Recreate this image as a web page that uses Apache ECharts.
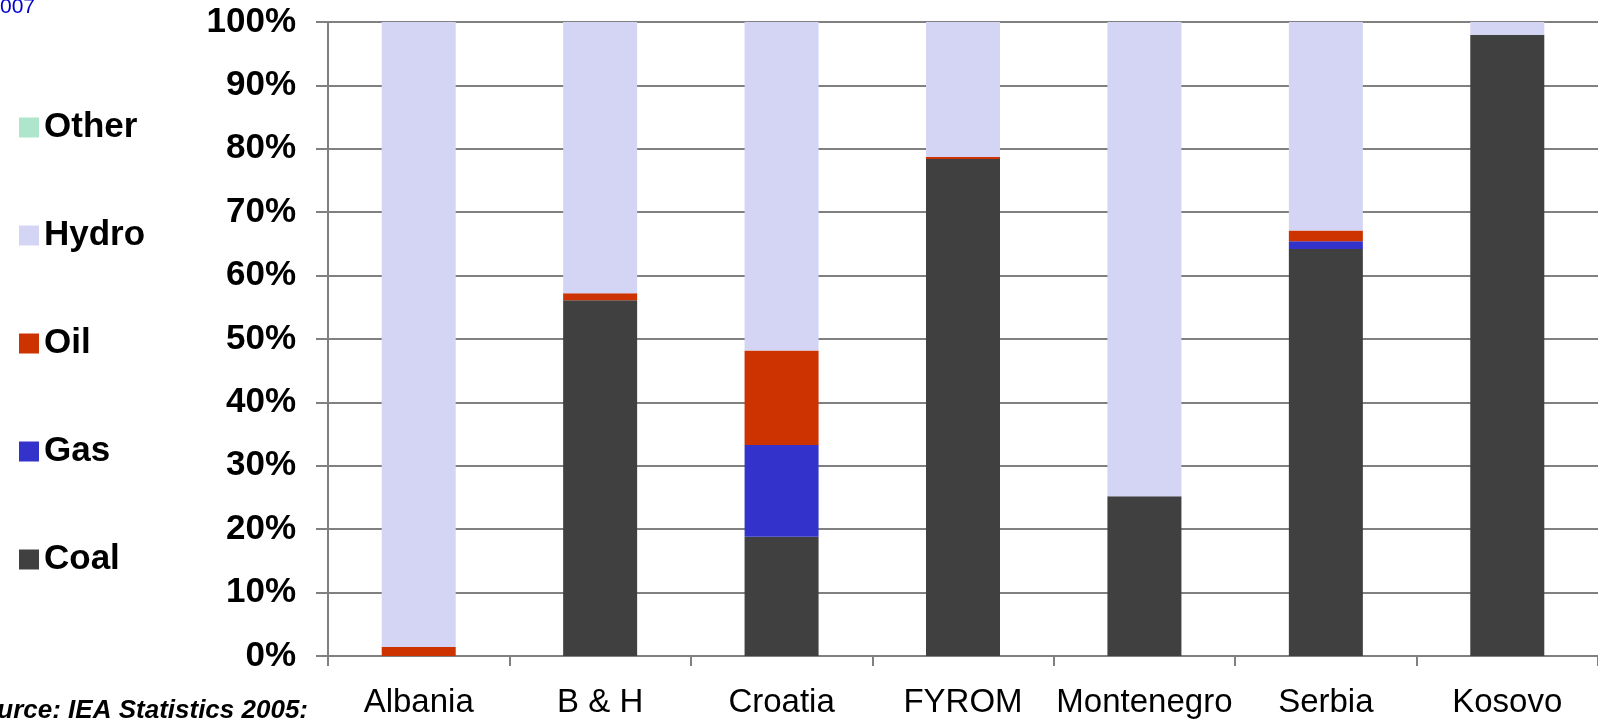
<!DOCTYPE html>
<html>
<head>
<meta charset="utf-8">
<script src="https://cdn.jsdelivr.net/npm/echarts@6/dist/echarts.min.js"></script>
<style>
  html, body { margin: 0; padding: 0; background: #fff; }
  #chart { width: 1598px; height: 721px; }
</style>
</head>
<body>
<div id="chart"></div>
<script>
//****** 数据 ******//
var countries = ["Albania", "B & H", "Croatia", "FYROM", "Montenegro", "Serbia", "Kosovo"];
var coal = [0, 56.1, 18.8, 78.4, 25.2, 64.2, 98.0];
var gas = [0, 0, 14.5, 0, 0, 1.2, 0];
var oil = [1.4, 1.1, 14.9, 0.3, 0, 1.7, 0];
var hydro = [98.6, 42.8, 51.8, 21.3, 74.8, 32.9, 2.0];
var other = [0, 0, 0, 0, 0, 0, 0];
var legend_order = ["Other", "Hydro", "Oil", "Gas", "Coal"];

//****** 样式 ******//
var font = "'Liberation Sans', Arial, sans-serif";
var grid_color = "#808080";

var chart = echarts.init(document.getElementById("chart"));

function bar(name, values, color) {
  return {
    name: name,
    type: "bar",
    stack: "mix",
    barWidth: 74,
    data: values,
    itemStyle: { color: color },
    emphasis: { disabled: true }
  };
}

var option = {
  animation: false,
  backgroundColor: "#fff",
  grid: { left: 328, top: 22, width: 1274, height: 634 },
  legend: {
    orient: "vertical",
    left: 14,
    top: 105,
    icon: "rect",
    itemWidth: 20,
    itemHeight: 20,
    itemGap: 73,
    data: legend_order,
    textStyle: {
      fontFamily: font,
      fontSize: 35,
      fontWeight: "bold",
      color: "#000"
    }
  },
  xAxis: {
    type: "category",
    data: countries,
    axisLine: { lineStyle: { color: grid_color, width: 2 } },
    axisTick: { show: true, interval: 0, length: 10, lineStyle: { color: grid_color, width: 2 } },
    axisLabel: {
      interval: 0,
      margin: 30,
      fontFamily: font,
      fontSize: 33,
      color: "#000"
    }
  },
  yAxis: {
    type: "value",
    min: 0,
    max: 100,
    interval: 10,
    axisLine: { show: true, lineStyle: { color: grid_color, width: 2 } },
    axisTick: { show: true, length: 12, lineStyle: { color: grid_color, width: 2 } },
    splitLine: { lineStyle: { color: grid_color, width: 2 } },
    axisLabel: {
      formatter: "{value}%",
      margin: 32,
      fontFamily: font,
      fontSize: 35,
      fontWeight: "bold",
      color: "#000"
    }
  },
  graphic: [
    {
      type: "text",
      x: 35,
      y: 18,
      style: {
        text: "2007",
        font: "21px " + font,
        fill: "#0000cc",
        align: "right",
        verticalAlign: "bottom"
      }
    },
    {
      type: "text",
      x: 308,
      y: 724,
      style: {
        text: "Source: IEA Statistics 2005:",
        font: "italic bold 26px " + font,
        fill: "#000",
        align: "right",
        verticalAlign: "bottom"
      }
    }
  ],
  series: [
    bar("Coal", coal, "#404040"),
    bar("Gas", gas, "#3333cc"),
    bar("Oil", oil, "#cc3300"),
    bar("Hydro", hydro, "#d4d4f4"),
    bar("Other", other, "#aee6cc")
  ]
};

chart.setOption(option);
</script>
</body>
</html>
